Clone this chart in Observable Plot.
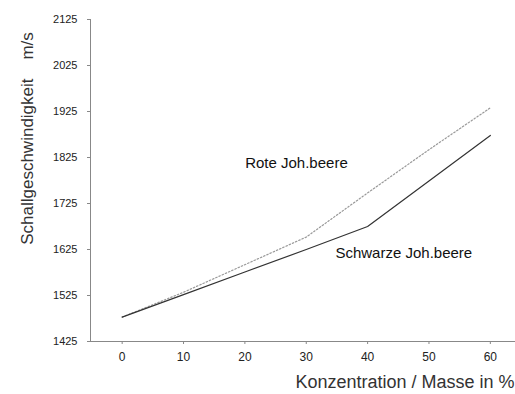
<!DOCTYPE html>
<html>
<head>
<meta charset="utf-8">
<script src="https://cdn.jsdelivr.net/npm/d3@7"></script>
<script src="https://cdn.jsdelivr.net/npm/@observablehq/plot@0.6"></script>
<style>
  html, body { margin: 0; padding: 0; background: #fff; }
  #chart svg { display: block; font-family: "Liberation Sans", Arial, sans-serif; }
</style>
</head>
<body>
<div id="chart"></div>
<script>
// Data
const concentration = [0, 10, 20, 30, 40, 50, 60];
const roteJohannisbeere = [1478, 1532, 1592, 1652, 1748, 1842, 1933];
const schwarzeJohannisbeere = [1478, 1527, 1576, 1625, 1675, 1774, 1873];
const yTicks = [1425, 1525, 1625, 1725, 1825, 1925, 2025, 2125];
const xTicks = [0, 10, 20, 30, 40, 50, 60];
const seriesNames = ["Rote Joh.beere", "Schwarze Joh.beere"];
const yTitle = "Schallgeschwindigkeit\u00a0\u00a0\u00a0\u00a0m/s";
const xTitle = "Konzentration / Masse in %";

const rote = concentration.map((c, i) => ({x: c, y: roteJohannisbeere[i]}));
const schwarz = concentration.map((c, i) => ({x: c, y: schwarzeJohannisbeere[i]}));
const labels = [
  {x: 28.4, y: 1812, text: seriesNames[0]},
  {x: 45.9, y: 1618, text: seriesNames[1]}
];

const xMin = -5.16, xMax = 64.1;

const chart = Plot.plot({
  width: 515,
  height: 394,
  marginLeft: 90,
  marginRight: 0,
  marginTop: 19,
  marginBottom: 53,
  x: {domain: [xMin, xMax]},
  y: {domain: [1425, 2125]},
  style: {fontFamily: "'Liberation Sans', Arial, sans-serif", background: "#fff"},
  marks: [
    Plot.ruleY([1425], {stroke: "#888", strokeWidth: 1}),
    Plot.ruleX([xMin], {stroke: "#888", strokeWidth: 1}),
    Plot.axisY({ticks: yTicks, tickSize: 3, tickPadding: 10, tickFormat: d => String(d),
      fontSize: 11, stroke: "#888", color: "#222", label: null}),
    Plot.axisX({ticks: xTicks, tickSize: 3, tickPadding: 8, tickFormat: d => String(d),
      fontSize: 12, stroke: "#888", color: "#222", label: null}),
    Plot.line(rote, {x: "x", y: "y", stroke: "#999", strokeWidth: 1.2, strokeDasharray: "1.5,2"}),
    Plot.line(schwarz, {x: "x", y: "y", stroke: "#333", strokeWidth: 1.2}),
    Plot.text(labels, {x: "x", y: "y", text: "text", fontSize: 15, fill: "#111"}),
    Plot.text([yTitle], {frameAnchor: "top-left", dx: -70, dy: 119, rotate: -90,
      fontSize: 17, fill: "#333", textAnchor: "middle"}),
    Plot.text([xTitle], {frameAnchor: "bottom-right", dx: -1, dy: 46,
      fontSize: 18, fill: "#333", textAnchor: "end"})
  ]
});
document.getElementById("chart").appendChild(chart);
</script>
</body>
</html>
